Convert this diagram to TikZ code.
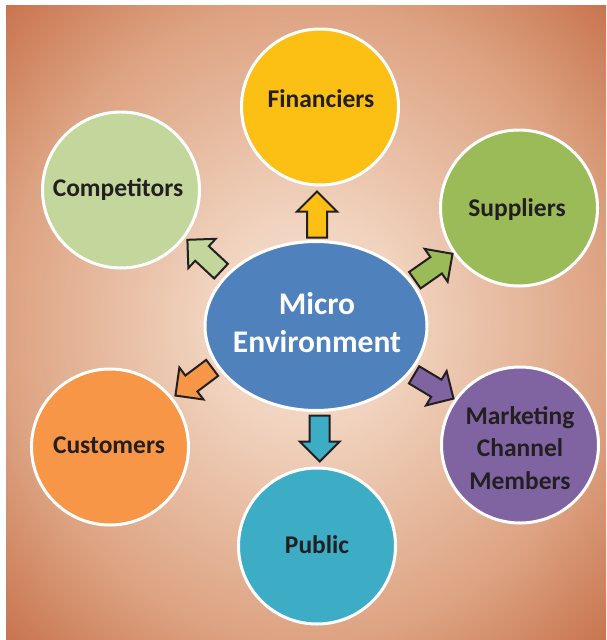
\documentclass[tikz,border=0pt]{standalone}
\usepackage{fontspec}
\setmainfont{Carlito}
\usetikzlibrary{shapes.geometric}
\definecolor{bgc}{HTML}{F7E6DA}
\definecolor{bgcb}{HTML}{F0D1BC}
\definecolor{bgm}{HTML}{DDA382}
\definecolor{bgo}{HTML}{C97650}
\definecolor{txt}{HTML}{231F20}
\definecolor{arrline}{HTML}{231F20}
\definecolor{cfin}{HTML}{FCBF14}
\definecolor{ccomp}{HTML}{C3D69B}
\definecolor{csup}{HTML}{9BBB59}
\definecolor{ccen}{HTML}{4F81BD}
\definecolor{ccust}{HTML}{F79646}
\definecolor{cmkt}{HTML}{8064A2}
\definecolor{cpub}{HTML}{3DADC6}
\pgfdeclareradialshading{bgshade}{\pgfpoint{0bp}{0bp}}{color(0bp)=(bgc); color(9bp)=(bgcb); color(25bp)=(bgm); color(35bp)=(bgo); color(50bp)=(bgo)}
\tikzset{
  circ/.style={ellipse, draw=white, line width=3pt, minimum width=157pt, minimum height=156pt, inner sep=0pt},
  lbl/.style={text=txt, font=\fontsize{25.5}{32.5}\selectfont\bfseries, align=center, anchor=base, inner sep=0pt},
  clbl/.style={text=white, font=\fontsize{31.5}{38}\selectfont\bfseries, align=center, anchor=base, inner sep=0pt},
  barrow/.style={draw=arrline, line width=2pt, line join=miter},
  blockarrow/.pic={\path[pic actions] (-23,-10) -- (3,-10) -- (3,-20) -- (23,0) -- (3,20) -- (3,10) -- (-23,10) -- cycle;},
}
\begin{document}
\begin{tikzpicture}[x=1pt, y=-1pt]
\useasboundingbox (0,0) rectangle (606,640);
\fill[white] (0,0) rectangle (606,640);
\shade[shading=bgshade] (6,5) rectangle (606,640);
% outer circles
\node[circ, fill=cfin] (fin) at (320,107) {};
\node[circ, fill=ccomp] (comp) at (121,190) {};
\node[circ, fill=csup] (sup) at (519,208) {};
\node[circ, fill=ccust] (cust) at (110,447) {};
\node[circ, fill=cmkt] (mkt) at (520,445) {};
\node[circ, fill=cpub] (pub) at (317,546) {};
% centre
\node[ellipse, draw=white, line width=3pt, minimum width=222pt, minimum height=169pt, inner sep=0pt, fill=ccen] (cen) at (316,326) {};
% labels (base anchor = baseline of the last line)
\node[lbl] (tfin) at (321,107.5) {Financiers};
\node[lbl] (tcomp) at (118,196) {Competitors};
\node[lbl] (tsup) at (517,216) {Suppliers};
\node[lbl] (tcust) at (109,453) {Customers};
\node[lbl] (tmkt) at (520,489) {Marketing\\Channel\\Members};
\node[lbl] (tpub) at (317,553) {Public};
\node[clbl] (tcen) at (317,352) {Micro\\Environment};
% arrows
\pic[barrow, fill=cfin, rotate=90] at (317,214.5) {blockarrow};
\pic[barrow, fill=ccomp, rotate=137] at (204.2,255.5) {blockarrow};
\pic[barrow, fill=csup, rotate=35] at (433.7,267) {blockarrow};
\pic[barrow, fill=ccust, rotate=217] at (193.8,381.7) {blockarrow};
\pic[barrow, fill=cmkt, rotate=-31] at (433.8,386.7) {blockarrow};
\pic[barrow, fill=cpub, rotate=-90] at (319.7,438.5) {blockarrow};
\end{tikzpicture}
\end{document}
